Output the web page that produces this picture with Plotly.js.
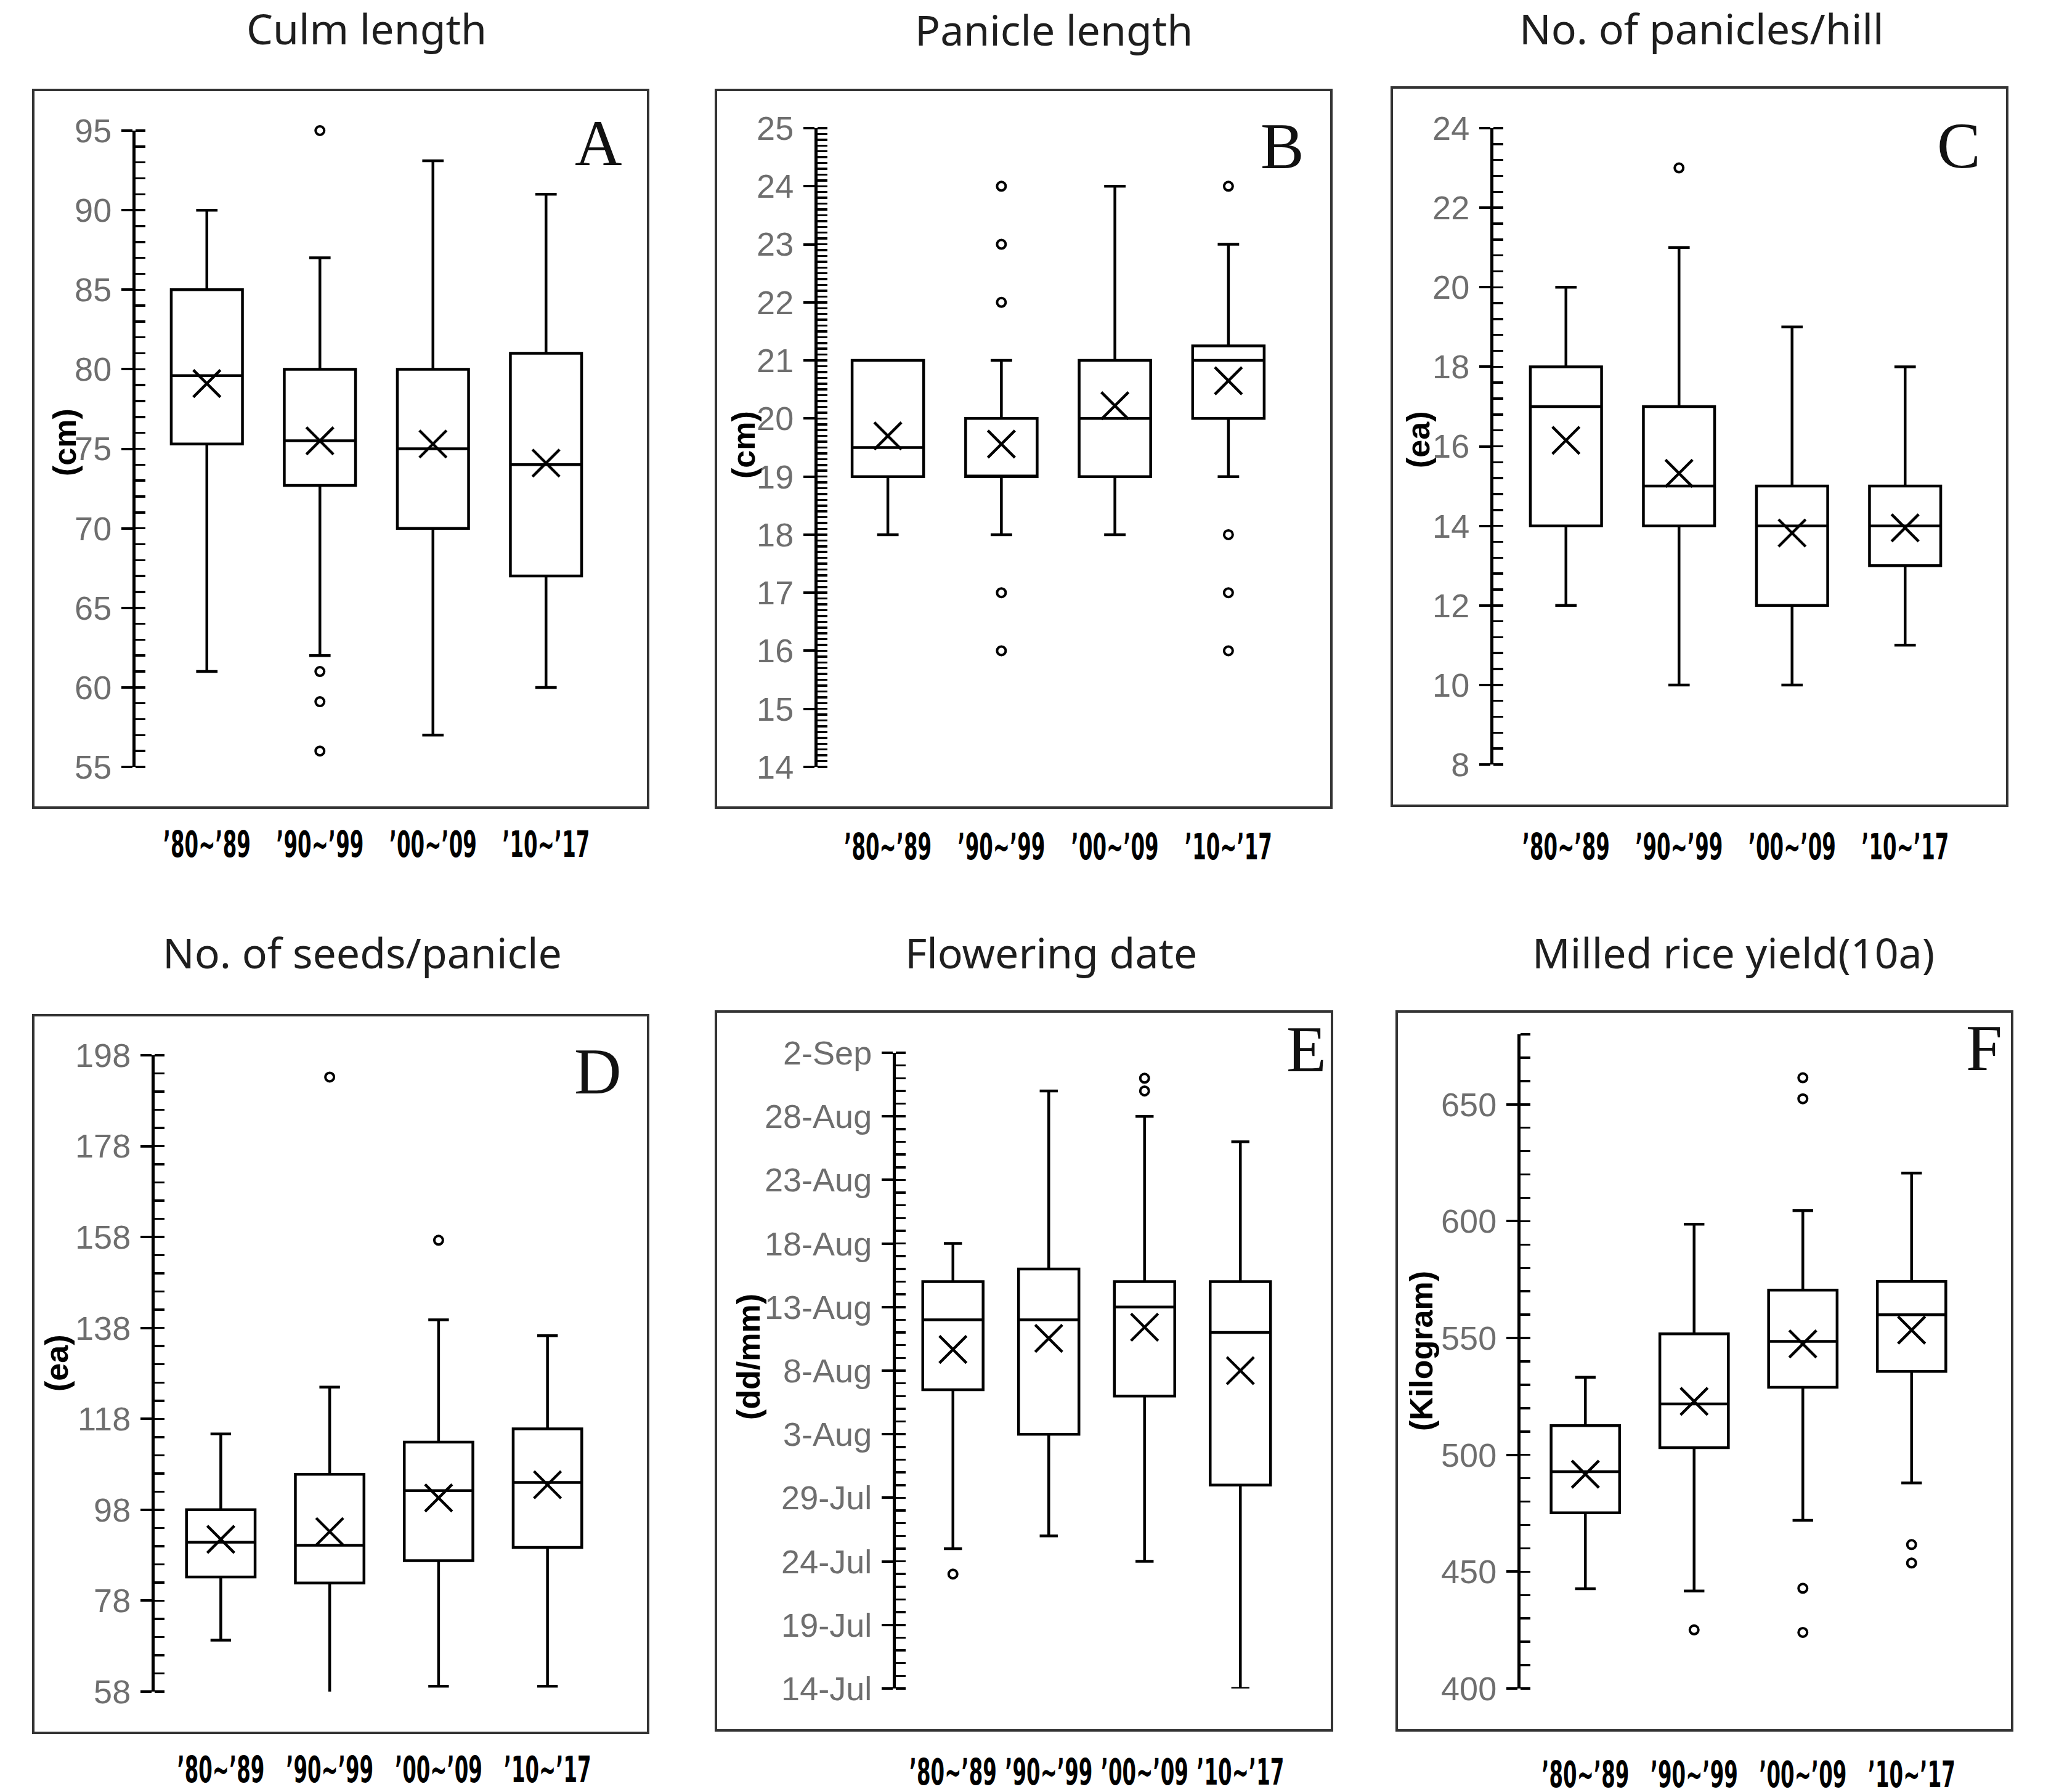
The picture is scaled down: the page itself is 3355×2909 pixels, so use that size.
<!DOCTYPE html>
<html>
<head>
<meta charset="utf-8">
<script src="https://cdn.plot.ly/plotly-3.0.1.min.js"></script>
<style>
  html, body { margin: 0; padding: 0; background: #fff; }
  #chart { width: 3355px; height: 2909px; }
</style>
</head>
<body>
<div id="chart"></div>
<script>
// ---- Periods (x categories) ----
const periods = ['\u201980~\u201989', '\u201990~\u201999', '\u201900~\u201909', '\u201910~\u201917'];

// ---- A: Culm length (cm) ----
const culmQ1     = [75.3, 72.7, 70.0, 67.0];
const culmMedian = [79.6, 75.5, 75.0, 74.0];
const culmQ3     = [85.0, 80.0, 80.0, 81.0];
const culmLower  = [61.0, 62.0, 57.0, 60.0];
const culmUpper  = [90.0, 87.0, 93.1, 91.0];
const culmMean   = [79.1, 75.5, 75.3, 74.1];
const culmOutPeriod = [periods[1], periods[1], periods[1], periods[1]];
const culmOutValue  = [95.0, 61.0, 59.1, 56.0];

// ---- B: Panicle length (cm) ----
const panQ1     = [19.0, 19.0, 19.0, 20.0];
const panMedian = [19.5, 19.0, 20.0, 21.0];
const panQ3     = [21.0, 20.0, 21.0, 21.25];
const panLower  = [18.0, 18.0, 18.0, 19.0];
const panUpper  = [21.0, 21.0, 24.0, 23.0];
const panMean   = [19.7, 19.56, 20.22, 20.65];
const panOutPeriod = [periods[1], periods[1], periods[1], periods[1], periods[1],
                      periods[3], periods[3], periods[3], periods[3]];
const panOutValue  = [24, 23, 22, 17, 16, 24, 18, 17, 16];

// ---- C: No. of panicles/hill (ea) ----
const phQ1     = [14, 14, 12, 13];
const phMedian = [17, 15, 14, 14];
const phQ3     = [18, 17, 15, 15];
const phLower  = [12, 10, 10, 11];
const phUpper  = [20, 21, 19, 18];
const phMean   = [16.15, 15.32, 13.82, 13.95];
const phOutPeriod = [periods[1]];
const phOutValue  = [23];

// ---- D: No. of seeds/panicle (ea) ----
const spQ1     = [83.2, 81.9, 86.8, 89.7];
const spMedian = [90.85, 90.2, 102.2, 104.0];
const spQ3     = [98.0, 105.8, 112.9, 115.8];
const spLower  = [69.3, 57.5, 59.2, 59.2];
const spUpper  = [114.7, 125.0, 139.8, 136.3];
const spMean   = [91.5, 93.2, 100.6, 103.5];
const spOutPeriod = [periods[1], periods[2]];
const spOutValue  = [193.2, 157.3];

// ---- E: Flowering date (dd/mm) ----
const flQ1     = ['2001-08-06 12:00', '2001-08-03', '2001-08-06', '2001-07-30'];
const flMedian = ['2001-08-12', '2001-08-12', '2001-08-13', '2001-08-11'];
const flQ3     = ['2001-08-15', '2001-08-16', '2001-08-15', '2001-08-15'];
const flLower  = ['2001-07-25', '2001-07-26', '2001-07-24', '2001-07-14'];
const flUpper  = ['2001-08-18', '2001-08-30', '2001-08-28', '2001-08-26'];
const flMean   = ['2001-08-09 16:00', '2001-08-10 13:00', '2001-08-11 10:00', '2001-08-08'];
const flOutPeriod = [periods[0], periods[2], periods[2]];
const flOutValue  = ['2001-07-23', '2001-08-31', '2001-08-30'];

// ---- F: Milled rice yield per 10a (kg) ----
const yQ1     = [475.2, 503.1, 528.9, 535.7];
const yMedian = [492.8, 521.8, 548.6, 560.0];
const yQ3     = [512.5, 551.8, 570.5, 574.2];
const yLower  = [442.7, 441.7, 472.0, 488.0];
const yUpper  = [533.2, 598.7, 604.5, 620.6];
const yMean   = [491.7, 522.9, 547.5, 553.4];
const yOutPeriod = [periods[1], periods[2], periods[2], periods[2], periods[2], periods[3], periods[3]];
const yOutValue  = [425.1, 661.4, 652.4, 442.9, 424.0, 461.6, 453.7];

// ---- Page geometry (pixels) ----
const W = 3355, H = 2909;
const px = v => v / W;
const py = v => 1 - v / H;

const DAY = 86400000;

const panels = [
  { title: 'Culm length', letter: 'A', unit: '(cm)',
    frame: [54, 146, 1052, 1311], axisX: 217, yTop: 212, yBot: 1245, xL: 244, xR: 978, labY: 1372,
    titleXY: [595, 45], letterXY: [972, 233], unitXY: [105, 718],
    range: [55, 95], dtick: 5, tick0: 55, minor: 1,
    q1: culmQ1, med: culmMedian, q3: culmQ3, lo: culmLower, up: culmUpper, mean: culmMean,
    outP: culmOutPeriod, outV: culmOutValue },
  { title: 'Panicle length', letter: 'B', unit: '(cm)',
    frame: [1162, 146, 2161, 1311], axisX: 1324, yTop: 208, yBot: 1245, xL: 1349, xR: 2086, labY: 1376,
    titleXY: [1710, 47], letterXY: [2081, 238], unitXY: [1207, 722],
    range: [14, 25], dtick: 1, tick0: 14, minor: 0.1,
    q1: panQ1, med: panMedian, q3: panQ3, lo: panLower, up: panUpper, mean: panMean,
    outP: panOutPeriod, outV: panOutValue },
  { title: 'No. of panicles/hill', letter: 'C', unit: '(ea)',
    frame: [2259, 142, 3258, 1308], axisX: 2421, yTop: 208, yBot: 1241, xL: 2450, xR: 3184, labY: 1376,
    titleXY: [2762, 45], letterXY: [3179, 237], unitXY: [2302, 714],
    range: [8, 24], dtick: 2, tick0: 8, minor: 0.4,
    q1: phQ1, med: phMedian, q3: phQ3, lo: phLower, up: phUpper, mean: phMean,
    outP: phOutPeriod, outV: phOutValue },
  { title: 'No. of seeds/panicle', letter: 'D', unit: '(ea)',
    frame: [54, 1648, 1052, 2813], axisX: 248, yTop: 1713, yBot: 2746, xL: 270, xR: 977, labY: 2874,
    titleXY: [588, 1545], letterXY: [970, 1740], unitXY: [92, 2213],
    range: [58, 198], dtick: 20, tick0: 58, minor: 4,
    q1: spQ1, med: spMedian, q3: spQ3, lo: spLower, up: spUpper, mean: spMean,
    outP: spOutPeriod, outV: spOutValue },
  { title: 'Flowering date', letter: 'E', unit: '(dd/mm)',
    frame: [1162, 1642, 2162, 2809], axisX: 1451, yTop: 1709, yBot: 2741, xL: 1469, xR: 2091, labY: 2878,
    titleXY: [1706, 1545], letterXY: [2120, 1703], unitXY: [1215, 2203],
    range: ['2001-07-14', '2001-09-02'], dtick: 5 * DAY, tick0: '2001-07-14', minor: DAY, date: true,
    q1: flQ1, med: flMedian, q3: flQ3, lo: flLower, up: flUpper, mean: flMean,
    outP: flOutPeriod, outV: flOutValue },
  { title: 'Milled rice yield(10a)', letter: 'F', unit: '(Kilogram)',
    frame: [2267, 1642, 3266, 2809], axisX: 2465, yTop: 1679, yBot: 2741, xL: 2485, xR: 3191, labY: 2882,
    titleXY: [2813, 1545], letterXY: [3220, 1702], unitXY: [2307, 2193],
    range: [400, 680], dtick: 50, tick0: 400, minor: 10,
    q1: yQ1, med: yMedian, q3: yQ3, lo: yLower, up: yUpper, mean: yMean,
    outP: yOutPeriod, outV: yOutValue }
];

const traces = [];
const layout = {
  width: W, height: H,
  margin: { l: 0, r: 0, t: 0, b: 0, pad: 0 },
  paper_bgcolor: '#ffffff',
  plot_bgcolor: 'rgba(0,0,0,0)',
  showlegend: false,
  boxgap: 0.1,
  shapes: [],
  annotations: []
};

const tickFontGray = { family: "'Liberation Sans', Arial, sans-serif", size: 54, color: '#6e6e6e' };
const catFont = { family: "'Liberation Sans Narrow', 'Arial Narrow', 'DejaVu Sans Condensed', sans-serif",
                  size: 58, color: '#000000', weight: 'bold' };

panels.forEach((p, i) => {
  const n = i + 1;
  const xa = n === 1 ? 'x' : 'x' + n;
  const ya = n === 1 ? 'y' : 'y' + n;
  const xKey = n === 1 ? 'xaxis' : 'xaxis' + n;
  const yKey = n === 1 ? 'yaxis' : 'yaxis' + n;

  layout[xKey] = {
    type: 'category',
    categoryorder: 'array',
    categoryarray: periods,
    domain: [px(p.xL), px(p.xR)],
    range: [-0.5, 3.5],
    anchor: 'free',
    position: py(p.labY - 40),
    showline: false, showgrid: false, zeroline: false,
    ticks: '',
    tickangle: 0,
    tickfont: catFont,
    fixedrange: true
  };

  const yAx = {
    domain: [py(p.yBot), py(p.yTop)],
    range: p.range,
    anchor: 'free',
    position: px(p.axisX),
    showline: true, linecolor: '#000000', linewidth: 5,
    showgrid: false, zeroline: false,
    ticks: 'outside', ticklen: 18, tickwidth: 4, tickcolor: '#000000',
    tickmode: 'linear', tick0: p.tick0, dtick: p.dtick,
    minor: { ticks: 'inside', ticklen: 16, tickwidth: 3.5, tickcolor: '#000000',
             tick0: p.tick0, dtick: p.minor, showgrid: false },
    tickfont: tickFontGray,
    ticklabelstandoff: 5,
    fixedrange: true
  };
  if (p.date) {
    yAx.type = 'date';
    yAx.tickformat = '%-d-%b';
  }
  layout[yKey] = yAx;

  // Box: quartiles, median and whiskers
  traces.push({
    type: 'box',
    x: periods,
    q1: p.q1, median: p.med, q3: p.q3,
    lowerfence: p.lo, upperfence: p.up,
    xaxis: xa, yaxis: ya,
    boxpoints: false,
    fillcolor: 'rgba(0,0,0,0)',
    line: { color: '#000000', width: 4.5 },
    whiskerwidth: 0.3,
    hoverinfo: 'skip'
  });

  // Mean marker
  traces.push({
    type: 'scatter', mode: 'markers',
    x: periods, y: p.mean,
    xaxis: xa, yaxis: ya,
    cliponaxis: false,
    marker: { symbol: 'x-thin', size: 44, color: '#000000', line: { color: '#000000', width: 4.5 } },
    hoverinfo: 'skip'
  });

  // Outliers
  traces.push({
    type: 'scatter', mode: 'markers',
    x: p.outP, y: p.outV,
    xaxis: xa, yaxis: ya,
    cliponaxis: false,
    marker: { symbol: 'circle-open', size: 14, color: '#000000', line: { color: '#000000', width: 4 } },
    hoverinfo: 'skip'
  });

  // Panel frame
  layout.shapes.push({
    type: 'rect', xref: 'paper', yref: 'paper',
    x0: px(p.frame[0]), x1: px(p.frame[2]), y0: py(p.frame[3]), y1: py(p.frame[1]),
    line: { color: '#333333', width: 4 }, fillcolor: 'rgba(0,0,0,0)', layer: 'below'
  });

  // Panel title
  layout.annotations.push({
    xref: 'paper', yref: 'paper', x: px(p.titleXY[0]), y: py(p.titleXY[1]),
    xanchor: 'center', yanchor: 'middle', showarrow: false,
    text: p.title,
    font: { family: "'Noto Sans', 'Open Sans', sans-serif", size: 68, color: '#1e1e1e' }
  });

  // Panel letter
  layout.annotations.push({
    xref: 'paper', yref: 'paper', x: px(p.letterXY[0]), y: py(p.letterXY[1]),
    xanchor: 'center', yanchor: 'middle', showarrow: false,
    text: p.letter,
    font: { family: "'Liberation Serif', 'Times New Roman', serif", size: 106, color: '#111111' }
  });

  // Unit label
  layout.annotations.push({
    xref: 'paper', yref: 'paper', x: px(p.unitXY[0]), y: py(p.unitXY[1]),
    xanchor: 'center', yanchor: 'middle', showarrow: false, textangle: -90,
    text: p.unit,
    font: { family: "'Liberation Sans', Arial, sans-serif", size: 52, color: '#000000', weight: 'bold' }
  });
});

Plotly.newPlot('chart', traces, layout, { staticPlot: true, displayModeBar: false }).then(gd => {
  // Period labels on every x axis are set in a tightly condensed face
  gd.querySelectorAll('.xaxislayer-above text').forEach(t => {
    t.setAttribute('textLength', '142');
    t.setAttribute('lengthAdjust', 'spacingAndGlyphs');
  });
});
</script>
</body>
</html>
